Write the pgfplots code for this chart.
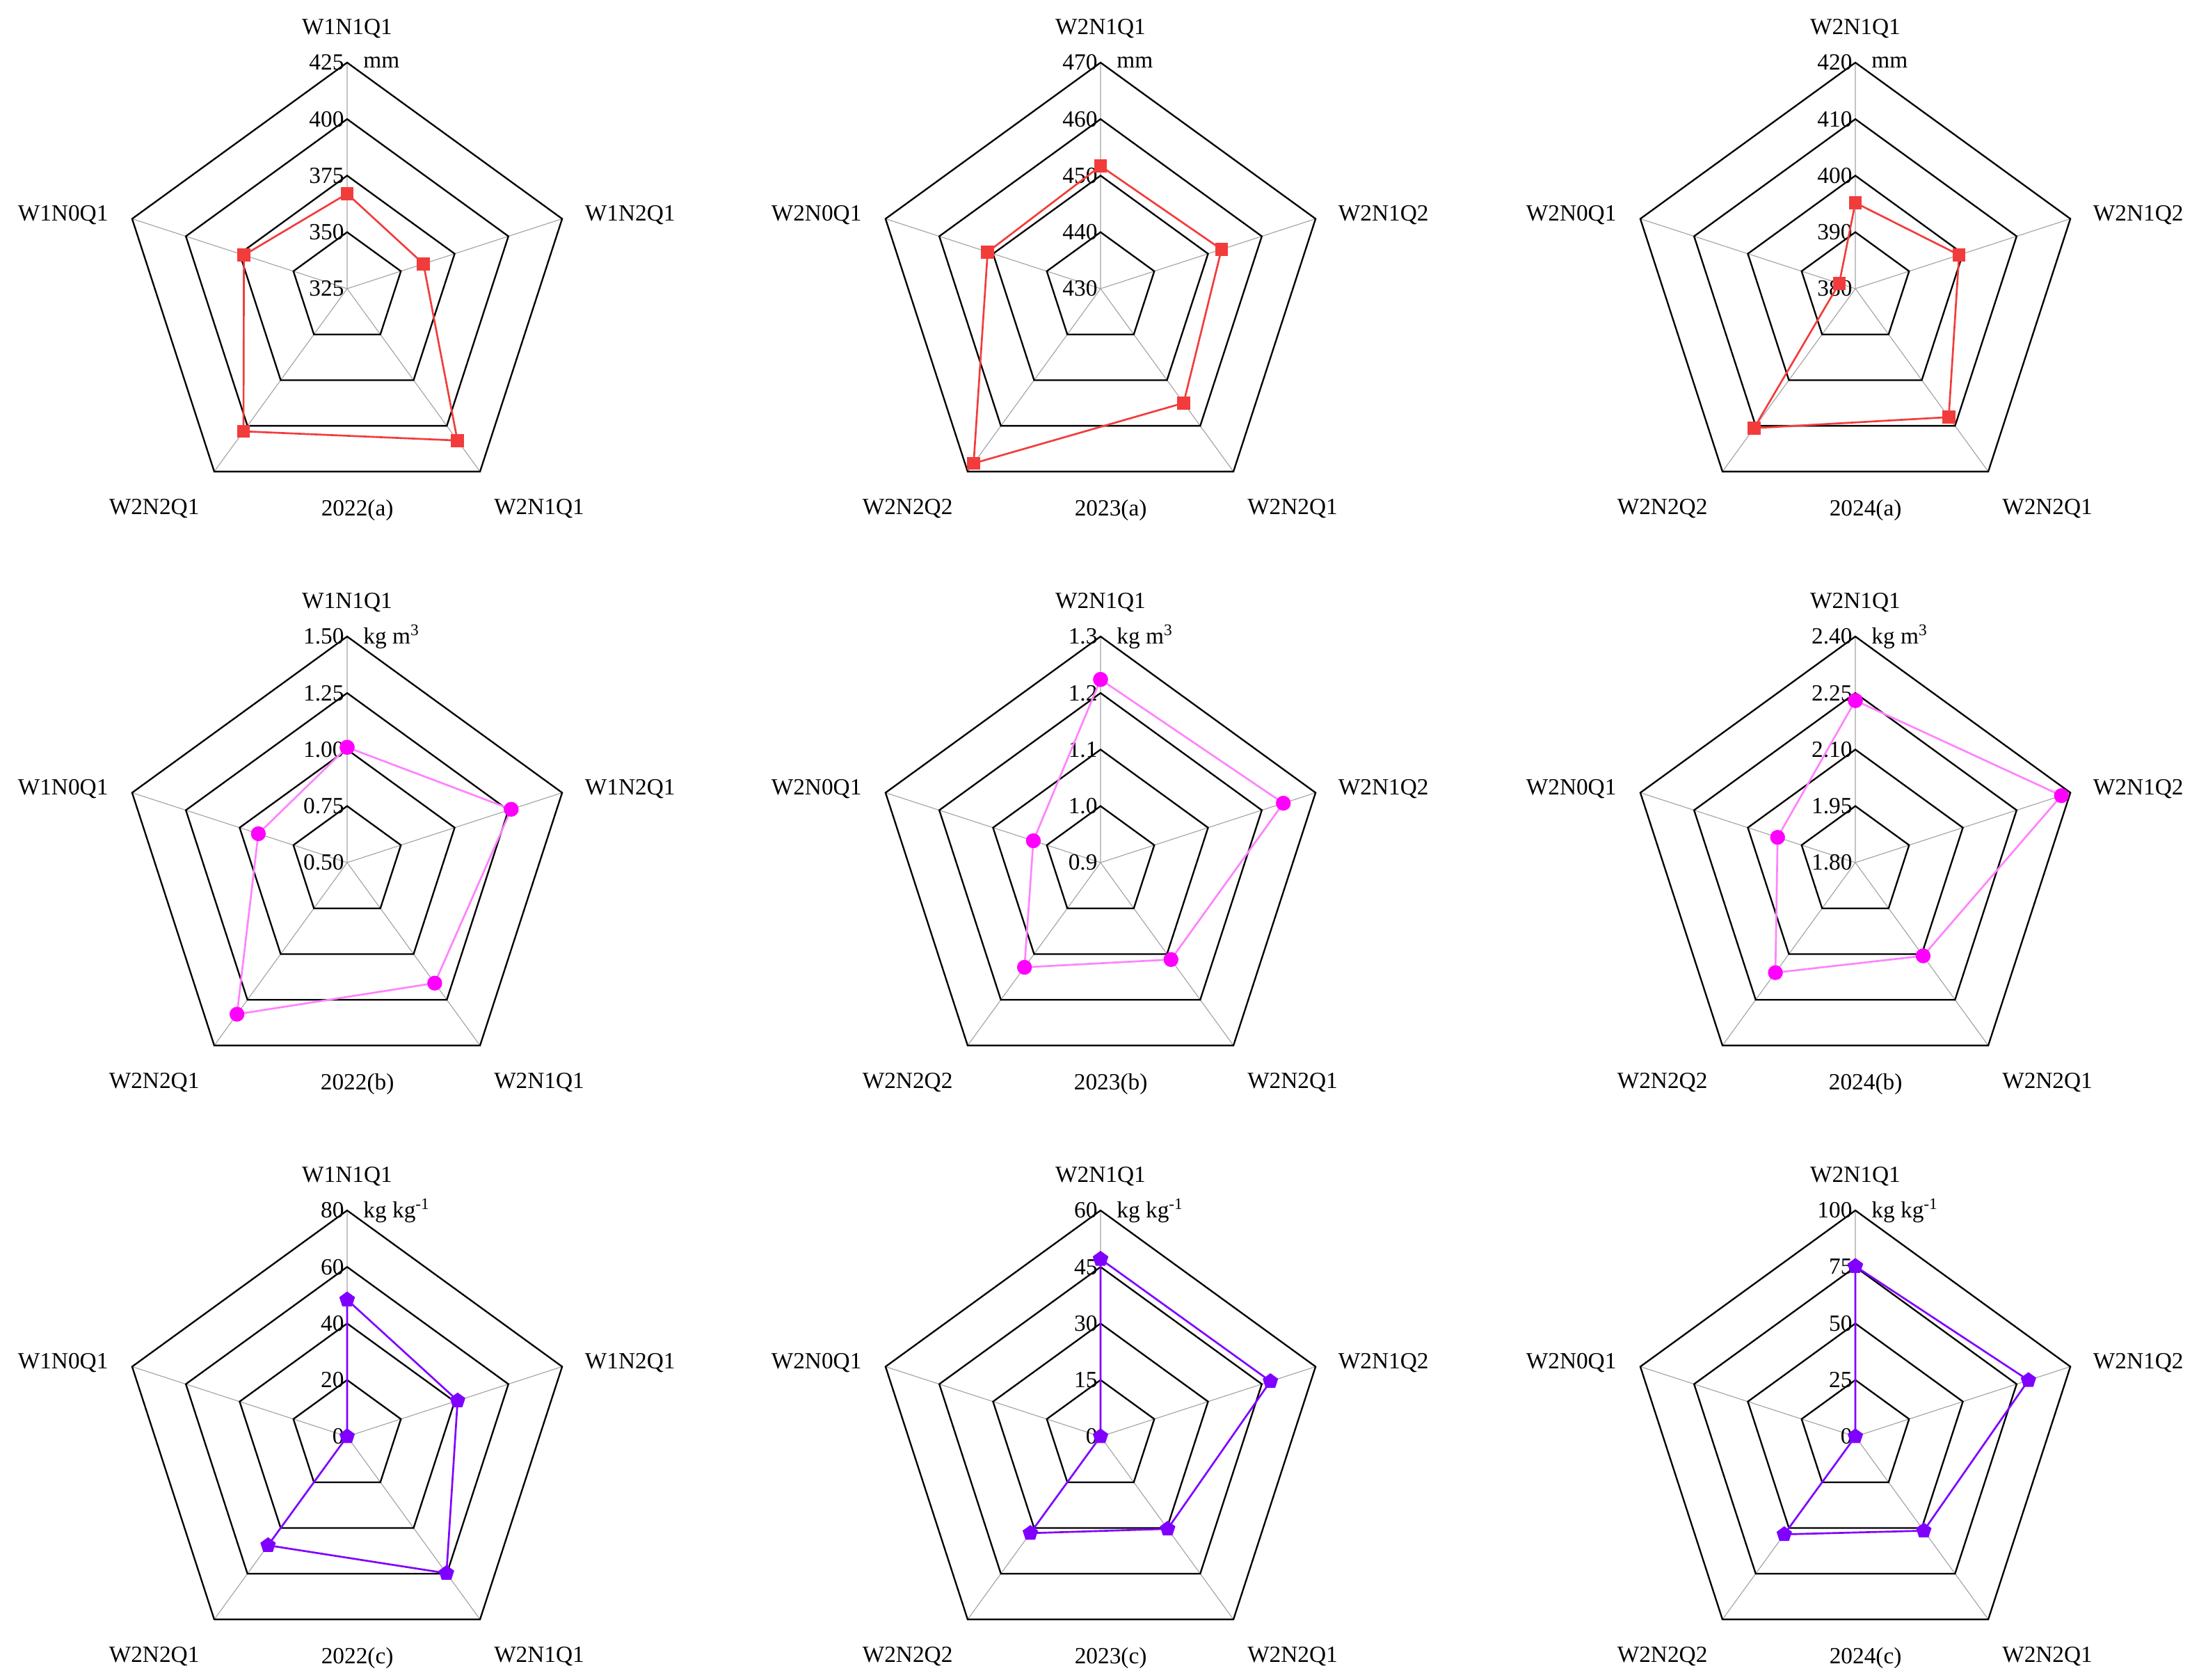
\documentclass[border=0pt]{standalone}
\usepackage{fontspec}
\setmainfont{Liberation Serif}
\usepackage{pgfplots}
\usepackage{pgfplotstable}
\pgfplotsset{compat=1.18}

\definecolor{cred}{RGB}{242,60,60}
\definecolor{cmag}{RGB}{255,0,255}
\definecolor{cpink}{RGB}{255,130,255}
\definecolor{cviol}{RGB}{127,0,255}
\definecolor{cspoke}{RGB}{165,165,165}

% k = spoke index (0 = top, clockwise), v = value; first row repeated to close
\pgfplotstableread{
k v
0 367
1 360.5
2 408
3 403
4 373
5 367
}\dAa
\pgfplotstableread{
k v
0 451.7
1 452.5
2 455
3 468.2
4 451
5 451.7
}\dBa
\pgfplotstableread{
k v
0 395.2
1 399.3
2 408.1
3 410.5
4 383
5 395.2
}\dCa
\pgfplotstableread{
k v
0 1.01
1 1.263
2 1.159
3 1.329
4 0.913
5 1.01
}\dAb
\pgfplotstableread{
k v
0 1.224
1 1.240
2 1.112
3 1.129
4 1.025
5 1.224
}\dBb
\pgfplotstableread{
k v
0 2.23
1 2.375
2 2.106
3 2.161
4 2.017
5 2.23
}\dCb
\pgfplotstableread{
k v
0 48.4
1 41.1
2 59.8
3 47.6
4 0
5 48.4
}\dAc
\pgfplotstableread{
k v
0 47.1
1 47.4
2 30.3
3 31.7
4 0
5 47.1
}\dBc
\pgfplotstableread{
k v
0 75.3
1 80.5
2 51.5
3 53.5
4 0
5 75.3
}\dCc

\pgfplotsset{
  radar/.style={width=195pt, height=195pt, scale only axis,
    xmin=-1, xmax=1, ymin=-1, ymax=1, hide axis, clip=false, anchor=center},
  rowa/.style={color=cred, line width=0.8pt, mark=square*, mark size=2.4pt},
  rowb/.style={draw=cpink, line width=0.8pt, mark=*, mark size=2.8pt,
    mark options={draw=cmag, fill=cmag}},
  rowc/.style={color=cviol, line width=0.8pt, mark=pentagon*, mark size=3pt},
}

\newcommand{\ring}[1]{\draw[black, line width=0.7pt] (0,#1) -- ({0.95106*#1},{0.30902*#1})
  -- ({0.58779*#1},{-0.80902*#1}) -- ({-0.58779*#1},{-0.80902*#1})
  -- ({-0.95106*#1},{0.30902*#1}) -- cycle;}
% grid: tick labels t0..t4 from centre outwards, unit
\newcommand{\radargrid}[6]{%
  \draw[cspoke, line width=0.35pt] (0,0) -- (0,1) (0,0) -- (0.95106,0.30902)
    (0,0) -- (0.58779,-0.80902) (0,0) -- (-0.58779,-0.80902) (0,0) -- (-0.95106,0.30902);
  \ring{0.25}\ring{0.5}\ring{0.75}\ring{1}
  \node[anchor=east, inner sep=0] at (-0.012,0) {#1};
  \node[anchor=east, inner sep=0] at (-0.012,0.25) {#2};
  \node[anchor=east, inner sep=0] at (-0.012,0.5) {#3};
  \node[anchor=east, inner sep=0] at (-0.012,0.75) {#4};
  \node[anchor=east, inner sep=0] at (-0.012,1) {#5};
  \node[anchor=west, inner sep=0] at (0.07,1.0) {#6};
}
% category labels: top, right, bottom right, bottom left, left, panel title
\newcommand{\radarlabels}[6]{%
  \node[anchor=base, inner sep=0] at (0,1.126) {#1};
  \node[anchor=base west, inner sep=0] at (1.05,0.30) {#2};
  \node[anchor=base west, inner sep=0] at (0.648,-1.0) {#3};
  \node[anchor=base east, inner sep=0] at (-0.652,-1.0) {#4};
  \node[anchor=base east, inner sep=0] at (-1.055,0.30) {#5};
  \node[anchor=base, inner sep=0] at (0.045,-1.006) {#6};
}
% style, minimum at centre, range, table
\newcommand{\radarplot}[4]{\addplot[#1] table[
  x expr={(\thisrow{v}-#2)/#3*sin(72*\thisrow{k})},
  y expr={(\thisrow{v}-#2)/#3*cos(72*\thisrow{k})}] {#4};}

\begin{document}
\fontsize{10}{12}\selectfont
\begin{tikzpicture}
\path[use as bounding box] (0,0) rectangle (948.3pt,724.5pt);

% row (a): water consumption
\begin{axis}[radar, at={(149.7pt,600pt)}]
  \radargrid{325}{350}{375}{400}{425}{mm}
  \radarlabels{W1N1Q1}{W1N2Q1}{W2N1Q1}{W2N2Q1}{W1N0Q1}{2022(a)}
  \radarplot{rowa}{325}{100}{\dAa}
\end{axis}
\begin{axis}[radar, at={(474.6pt,600pt)}]
  \radargrid{430}{440}{450}{460}{470}{mm}
  \radarlabels{W2N1Q1}{W2N1Q2}{W2N2Q1}{W2N2Q2}{W2N0Q1}{2023(a)}
  \radarplot{rowa}{430}{40}{\dBa}
\end{axis}
\begin{axis}[radar, at={(800.1pt,600pt)}]
  \radargrid{380}{390}{400}{410}{420}{mm}
  \radarlabels{W2N1Q1}{W2N1Q2}{W2N2Q1}{W2N2Q2}{W2N0Q1}{2024(a)}
  \radarplot{rowa}{380}{40}{\dCa}
\end{axis}

% row (b)
\begin{axis}[radar, at={(149.7pt,352.5pt)}]
  \radargrid{0.50}{0.75}{1.00}{1.25}{1.50}{kg m\textsuperscript{3}}
  \radarlabels{W1N1Q1}{W1N2Q1}{W2N1Q1}{W2N2Q1}{W1N0Q1}{2022(b)}
  \radarplot{rowb}{0.5}{1.0}{\dAb}
\end{axis}
\begin{axis}[radar, at={(474.6pt,352.5pt)}]
  \radargrid{0.9}{1.0}{1.1}{1.2}{1.3}{kg m\textsuperscript{3}}
  \radarlabels{W2N1Q1}{W2N1Q2}{W2N2Q1}{W2N2Q2}{W2N0Q1}{2023(b)}
  \radarplot{rowb}{0.9}{0.4}{\dBb}
\end{axis}
\begin{axis}[radar, at={(800.1pt,352.5pt)}]
  \radargrid{1.80}{1.95}{2.10}{2.25}{2.40}{kg m\textsuperscript{3}}
  \radarlabels{W2N1Q1}{W2N1Q2}{W2N2Q1}{W2N2Q2}{W2N0Q1}{2024(b)}
  \radarplot{rowb}{1.8}{0.6}{\dCb}
\end{axis}

% row (c)
\begin{axis}[radar, at={(149.7pt,105pt)}]
  \radargrid{0}{20}{40}{60}{80}{kg kg\textsuperscript{-1}}
  \radarlabels{W1N1Q1}{W1N2Q1}{W2N1Q1}{W2N2Q1}{W1N0Q1}{2022(c)}
  \radarplot{rowc}{0}{80}{\dAc}
\end{axis}
\begin{axis}[radar, at={(474.6pt,105pt)}]
  \radargrid{0}{15}{30}{45}{60}{kg kg\textsuperscript{-1}}
  \radarlabels{W2N1Q1}{W2N1Q2}{W2N2Q1}{W2N2Q2}{W2N0Q1}{2023(c)}
  \radarplot{rowc}{0}{60}{\dBc}
\end{axis}
\begin{axis}[radar, at={(800.1pt,105pt)}]
  \radargrid{0}{25}{50}{75}{100}{kg kg\textsuperscript{-1}}
  \radarlabels{W2N1Q1}{W2N1Q2}{W2N2Q1}{W2N2Q2}{W2N0Q1}{2024(c)}
  \radarplot{rowc}{0}{100}{\dCc}
\end{axis}
\end{tikzpicture}
\end{document}
